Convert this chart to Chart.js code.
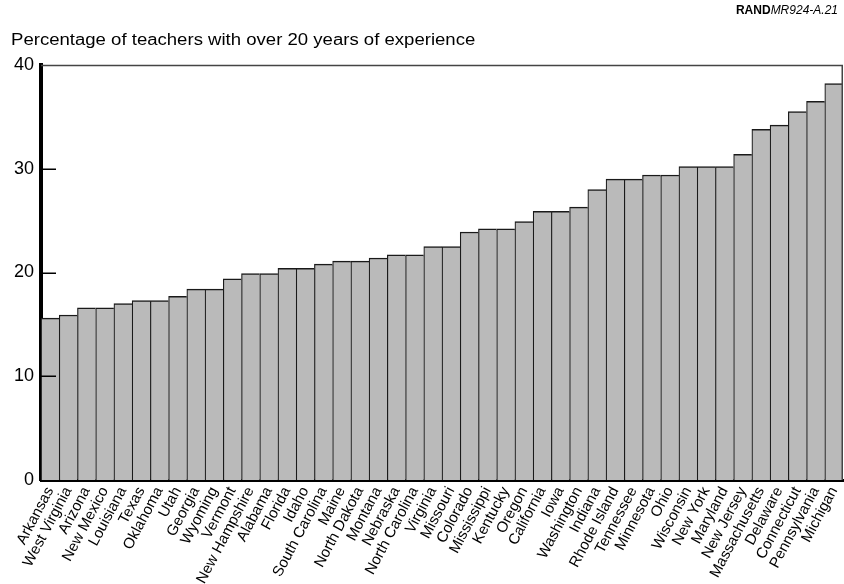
<!DOCTYPE html>
<html>
<head>
<meta charset="utf-8">
<script src="https://cdn.jsdelivr.net/npm/chart.js@4.4.0/dist/chart.umd.min.js"></script>
<style>
    body { margin: 0; background: #fff; }
    #wrap { position: relative; width: 844px; height: 584px; }
    #title { position: absolute; left: 11px; top: 31px; font: 16px "Liberation Sans", Arial, sans-serif; color: #000;
        white-space: nowrap; transform: scaleX(1.16); transform-origin: left top; }
    #tag { position: absolute; right: 6px; top: 3px; font: 12px "Liberation Sans", Arial, sans-serif; color: #000; }
    #tag b { font-weight: bold; }
    #tag i { font-style: italic; }
</style>
</head>
<body>
<div id="wrap">
    <canvas id="graph" width="844" height="584"></canvas>
    <div id="title">Percentage of teachers with over 20 years of experience</div>
    <div id="tag"><b>RAND</b><i>MR924-A.21</i></div>
</div>
<script>
(function() {
    'use strict';

    // states, sorted low to high
    var states = ['Arkansas', 'West Virginia', 'Arizona', 'New Mexico', 'Louisiana', 'Texas',
        'Oklahoma', 'Utah', 'Georgia', 'Wyoming', 'Vermont', 'New Hampshire', 'Alabama',
        'Florida', 'Idaho', 'South Carolina', 'Maine', 'North Dakota', 'Montana', 'Nebraska',
        'North Carolina', 'Virginia', 'Missouri', 'Colorado', 'Mississippi', 'Kentucky',
        'Oregon', 'California', 'Iowa', 'Washington', 'Indiana', 'Rhode Island', 'Tennessee',
        'Minnesota', 'Ohio', 'Wisconsin', 'New York', 'Maryland', 'New Jersey',
        'Massachusetts', 'Delaware', 'Connecticut', 'Pennsylvania', 'Michigan'];

    // percent of teachers with 20+ years
    var percentOver20 = [15.6, 15.9, 16.6, 16.6, 17.0, 17.3,
        17.3, 17.7, 18.4, 18.4, 19.4, 19.9, 19.9,
        20.4, 20.4, 20.8, 21.1, 21.1, 21.4, 21.7,
        21.7, 22.5, 22.5, 23.9, 24.2, 24.2,
        24.9, 25.9, 25.9, 26.3, 28.0, 29.0, 29.0,
        29.4, 29.4, 30.2, 30.2, 30.2, 31.4,
        33.8, 34.2, 35.5, 36.5, 38.2];

    var yTicks = [0, 10, 20, 30, 40];

    var font = '"Liberation Sans", Arial, sans-serif';

    //draws the thin top/right frame and the inward tick marks on the y axis
    var framePlugin = {
        id: 'frame',
        afterDraw: function(chart) {
            var ctx = chart.ctx;
            var area = chart.chartArea;
            var y = chart.scales.y;
            ctx.save();
            ctx.strokeStyle = '#444';
            ctx.lineWidth = 1.5;
            ctx.beginPath();
            ctx.moveTo(area.left, area.top + 0.5);
            ctx.lineTo(area.right - 0.75, area.top + 0.5);
            ctx.lineTo(area.right - 0.75, area.bottom);
            ctx.stroke();
            ctx.strokeStyle = '#000';
            ctx.lineWidth = 1.5;
            ctx.beginPath();
            yTicks.forEach(function(v) {
                if (v == 0 || v == 40) return;
                var py = Math.round(y.getPixelForValue(v)) + 0.25;
                ctx.moveTo(area.left, py);
                ctx.lineTo(area.left + 15, py);
            });
            ctx.stroke();
            ctx.restore();
        }
    };

    var ctx = document.getElementById('graph').getContext('2d');
    new Chart(ctx, {
        type: 'bar',
        data: {
            labels: states,
            datasets: [{
                data: percentOver20,
                backgroundColor: '#bababa',
                borderColor: '#1a1a1a',
                borderWidth: { top: 1.5, left: 1.2, right: 0, bottom: 0 },
                borderSkipped: false,
                barPercentage: 1,
                categoryPercentage: 1
            }]
        },
        options: {
            responsive: false,
            animation: false,
            devicePixelRatio: 1,
            layout: { padding: { top: 65, right: 1, left: 0, bottom: 0 } },
            plugins: {
                legend: { display: false },
                tooltip: { enabled: false },
                title: { display: false }
            },
            scales: {
                x: {
                    z: 1,
                    grid: { display: false, drawTicks: false },
                    border: { display: true, color: '#000', width: 3 },
                    ticks: {
                        autoSkip: false,
                        minRotation: 62,
                        maxRotation: 62,
                        padding: 4,
                        color: '#000',
                        font: { family: font, size: 15 }
                    },
                    afterFit: function(scale) {
                        scale.height = 104;
                        scale.paddingLeft = 0;
                        scale.paddingRight = 0;
                    }
                },
                y: {
                    z: 1,
                    min: 0,
                    max: 40,
                    afterBuildTicks: function(scale) {
                        scale.ticks = yTicks.map(function(v) { return { value: v }; });
                    },
                    grid: { display: false, drawTicks: false },
                    border: { display: true, color: '#000', width: 4 },
                    ticks: {
                        padding: 7,
                        color: '#000',
                        font: { family: font, size: 18 }
                    },
                    afterFit: function(scale) {
                        scale.width = 41;
                        scale.paddingTop = 0;
                        scale.paddingBottom = 0;
                    }
                }
            }
        },
        plugins: [framePlugin]
    });
})();
</script>
</body>
</html>
